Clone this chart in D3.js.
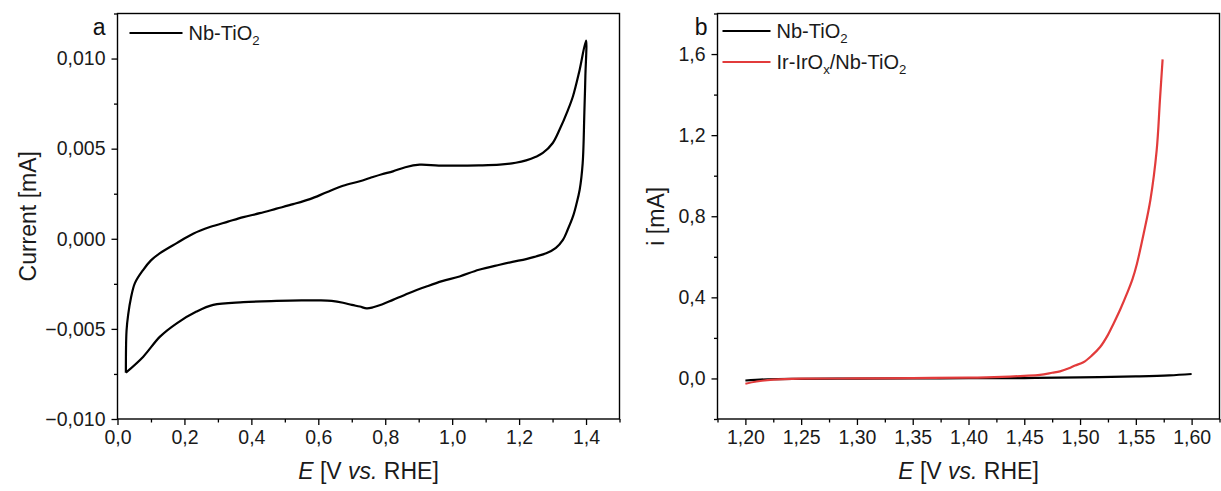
<!DOCTYPE html>
<html>
<head>
<meta charset="utf-8">
<script src="https://cdn.jsdelivr.net/npm/d3@7"></script>
<style>
  html, body { margin: 0; padding: 0; background: #fff; }
  svg { display: block; font-family: "Liberation Sans", Arial, sans-serif; }
</style>
</head>
<body>
<svg id="chart" width="1221" height="491"></svg>
<script>
// ---- Panel a: cyclic voltammogram of Nb-TiO2 (E in V vs. RHE, current in mA) ----
// anodic sweep, from the lower vertex up to 1.40 V
const cvAnodicE = [0.025, 0.027, 0.032, 0.040, 0.052, 0.077, 0.100, 0.127, 0.177, 0.226, 0.276, 0.330,
  0.376, 0.425, 0.475, 0.525, 0.575, 0.625, 0.674, 0.724, 0.754, 0.790, 0.823, 0.860, 0.903, 0.960,
  1.022, 1.080, 1.142, 1.190, 1.221, 1.250, 1.271, 1.300, 1.321, 1.345, 1.361, 1.380, 1.400];
const cvAnodicI = [-0.00743, -0.00510, -0.00420, -0.00330, -0.00246, -0.00172, -0.00120, -0.00080, -0.00024,
  0.00028, 0.00065, 0.00095, 0.00120, 0.00142, 0.00167, 0.00192, 0.00220, 0.00258, 0.00294, 0.00319,
  0.00337, 0.00358, 0.00374, 0.00397, 0.00411, 0.00406, 0.00406, 0.00407, 0.00411, 0.00422, 0.00435,
  0.00455, 0.00476, 0.00530, 0.00606, 0.00710, 0.00791, 0.00930, 0.01100];
// cathodic sweep, from 1.40 V back down to the lower vertex
const cvCathodicE = [1.400, 1.398, 1.395, 1.390, 1.381, 1.371, 1.361, 1.345, 1.331, 1.310, 1.281, 1.250,
  1.221, 1.180, 1.142, 1.080, 1.022, 0.970, 0.923, 0.870, 0.823, 0.790, 0.764, 0.745, 0.724, 0.700,
  0.674, 0.640, 0.604, 0.550, 0.475, 0.376, 0.286, 0.236, 0.177, 0.127, 0.077, 0.025];
const cvCathodicI = [0.01100, 0.00900, 0.00700, 0.00420, 0.00272, 0.00190, 0.00124, 0.00050, -0.00006,
  -0.00050, -0.00080, -0.00098, -0.00113, -0.00128, -0.00144, -0.00172, -0.00209, -0.00235, -0.00265,
  -0.00302, -0.00339, -0.00365, -0.00380, -0.00386, -0.00376, -0.00367, -0.00355, -0.00345, -0.00342,
  -0.00342, -0.00345, -0.00352, -0.00367, -0.00404, -0.00469, -0.00543, -0.00654, -0.00743];

const panelAXTicks = [0.0, 0.2, 0.4, 0.6, 0.8, 1.0, 1.2, 1.4];
const panelAXMinor = [0.1, 0.3, 0.5, 0.7, 0.9, 1.1, 1.3, 1.5];
const panelAYTicks = [-0.010, -0.005, 0.000, 0.005, 0.010];
const panelAYMinor = [-0.0075, -0.0025, 0.0025, 0.0075, 0.0125];

// ---- Panel b: linear sweeps, Nb-TiO2 and Ir-IrOx/Nb-TiO2 ----
const lsvSupportE = [1.200, 1.220, 1.250, 1.300, 1.350, 1.400, 1.450, 1.500, 1.550, 1.580, 1.600];
const lsvSupportI = [-0.010, -0.004, -0.002, -0.001, 0.000, 0.001, 0.002, 0.005, 0.010, 0.015, 0.022];
const lsvIrE = [1.200, 1.210, 1.225, 1.250, 1.300, 1.350, 1.400, 1.430, 1.450, 1.464, 1.475, 1.482,
  1.490, 1.4955, 1.503, 1.510, 1.518, 1.525, 1.530, 1.536, 1.542, 1.547, 1.551, 1.557, 1.563, 1.5687,
  1.5716, 1.574];
const lsvIrI = [-0.026, -0.015, -0.006, -0.001, 0.000, 0.002, 0.004, 0.008, 0.013, 0.018, 0.028, 0.035,
  0.050, 0.064, 0.080, 0.110, 0.155, 0.215, 0.270, 0.340, 0.418, 0.490, 0.566, 0.714, 0.879, 1.126,
  1.373, 1.574];

const panelBXTicks = [1.20, 1.25, 1.30, 1.35, 1.40, 1.45, 1.50, 1.55, 1.60];
const panelBXMinor = [1.175, 1.225, 1.275, 1.325, 1.375, 1.425, 1.475, 1.525, 1.575, 1.625];
const panelBYTicks = [0.0, 0.4, 0.8, 1.2, 1.6];
const panelBYMinor = [-0.2, 0.2, 0.6, 1.0, 1.4, 1.8];

const seriesColors = ["#000000", "#e23b3b"];

// ---- drawing ----
const svg = d3.select("#chart");
const plotTop = 13.5, plotBottom = 419;
const tickFont = 19.5, titleFont = 23, legendFont = 20;

const commaFmt = (spec) => {
  const f = d3.format(spec);
  return v => f(v).replace(".", ",").replace("-", "\u2212");
};

function drawPanel(opts) {
  const x = d3.scaleLinear().domain(opts.xDomain).range([opts.left, opts.right]);
  const y = d3.scaleLinear().domain(opts.yDomain).range([plotBottom, plotTop]);
  const g = svg.append("g");

  // clip region for the curves
  const clipId = "clip-" + opts.id;
  svg.append("clipPath").attr("id", clipId).append("rect")
    .attr("x", opts.left).attr("y", plotTop)
    .attr("width", opts.right - opts.left).attr("height", plotBottom - plotTop);

  const curves = g.append("g").attr("clip-path", `url(#${clipId})`);
  opts.series.forEach(s => {
    const pts = s.E.map((e, i) => [e, s.I[i]]);
    curves.append("path")
      .attr("d", d3.line().x(d => x(d[0])).y(d => y(d[1])).curve(d3.curveCatmullRom.alpha(0.5))(pts))
      .attr("fill", "none").attr("stroke", s.color).attr("stroke-width", 2.2)
      .attr("stroke-linejoin", "round");
  });

  // axes: major ticks with labels, minor ticks without
  const xAxis = g.append("g").attr("transform", `translate(0,${plotBottom})`)
    .call(d3.axisBottom(x).tickValues(opts.xTicks).tickFormat(commaFmt(opts.xFmt)).tickSize(6).tickPadding(5));
  g.append("g").attr("transform", `translate(0,${plotBottom})`)
    .call(d3.axisBottom(x).tickValues(opts.xMinor).tickFormat("").tickSize(3.5))
    .call(a => a.select(".domain").remove());
  const yAxis = g.append("g").attr("transform", `translate(${opts.left},0)`)
    .call(d3.axisLeft(y).tickValues(opts.yTicks).tickFormat(commaFmt(opts.yFmt)).tickSize(6).tickPadding(6));
  g.append("g").attr("transform", `translate(${opts.left},0)`)
    .call(d3.axisLeft(y).tickValues(opts.yMinor).tickFormat("").tickSize(3.5))
    .call(a => a.select(".domain").remove());
  [xAxis, yAxis].forEach(a => {
    a.select(".domain").remove();
    a.selectAll("text").attr("font-size", tickFont).attr("fill", "#1a1a1a")
      .attr("font-family", "'Liberation Sans', Arial, sans-serif");
  });
  g.selectAll(".tick line").attr("stroke", "#000").attr("stroke-width", 1.3);

  // frame
  g.append("rect").attr("x", opts.left).attr("y", plotTop)
    .attr("width", opts.right - opts.left).attr("height", plotBottom - plotTop)
    .attr("fill", "none").attr("stroke", "#000").attr("stroke-width", 1.4);

  // panel letter
  g.append("text").attr("x", opts.left - opts.letterGap).attr("y", 35).attr("text-anchor", "end")
    .attr("font-size", 23).attr("fill", "#111").text(opts.letter);

  // x axis title
  const xt = g.append("text").attr("x", (opts.left + opts.right) / 2).attr("y", 479)
    .attr("text-anchor", "middle").attr("font-size", titleFont).attr("fill", "#1a1a1a");
  xt.append("tspan").attr("font-style", "italic").text("E");
  xt.append("tspan").text(" [V ");
  xt.append("tspan").attr("font-style", "italic").text("vs.");
  xt.append("tspan").text(" RHE]");

  // y axis title
  g.append("text")
    .attr("transform", `translate(${opts.yTitleX},${(plotTop + plotBottom) / 2}) rotate(-90)`)
    .attr("text-anchor", "middle").attr("font-size", titleFont).attr("fill", "#1a1a1a")
    .text(opts.yTitle);

  // legend
  opts.series.forEach((s, i) => {
    const ly = opts.legendY[i];
    const lx = opts.left + opts.legendInset;
    g.append("line").attr("x1", lx).attr("x2", lx + opts.legendLen)
      .attr("y1", ly).attr("y2", ly).attr("stroke", s.color).attr("stroke-width", 2.2);
    const t = g.append("text").attr("x", lx + opts.legendLen + 6).attr("y", ly + 7)
      .attr("font-size", legendFont).attr("fill", "#1a1a1a");
    s.label.forEach(part => {
      const sp = t.append("tspan").text(part.t);
      if (part.sub) sp.attr("font-size", legendFont * 0.66).attr("dy", 5);
      else if (part.after) sp.attr("dy", -5);
    });
  });
}

drawPanel({
  id: "a", letter: "a", left: 117.5, right: 619.5, letterGap: 12,
  xDomain: [0, 1.5], yDomain: [-0.010, 0.0125],
  xTicks: panelAXTicks, xMinor: panelAXMinor, yTicks: panelAYTicks, yMinor: panelAYMinor,
  xFmt: ".1f", yFmt: ".3f",
  yTitle: "Current [mA]", yTitleX: 36,
  legendY: [33], legendInset: 12, legendLen: 53,
  series: [
    { E: cvAnodicE.concat(cvCathodicE.slice(1)), I: cvAnodicI.concat(cvCathodicI.slice(1)),
      color: seriesColors[0],
      label: [{ t: "Nb-TiO" }, { t: "2", sub: true }] }
  ]
});

drawPanel({
  id: "b", letter: "b", left: 717.5, right: 1219.5, letterGap: 10,
  xDomain: [1.175, 1.625], yDomain: [-0.2, 1.8],
  xTicks: panelBXTicks, xMinor: panelBXMinor, yTicks: panelBYTicks, yMinor: panelBYMinor,
  xFmt: ".2f", yFmt: ".1f",
  yTitle: "i [mA]", yTitleX: 664,
  legendY: [31, 62], legendInset: 5, legendLen: 48,
  series: [
    { E: lsvSupportE, I: lsvSupportI, color: seriesColors[0],
      label: [{ t: "Nb-TiO" }, { t: "2", sub: true }] },
    { E: lsvIrE, I: lsvIrI, color: seriesColors[1],
      label: [{ t: "Ir-IrO" }, { t: "x", sub: true }, { t: "/Nb-TiO", after: true }, { t: "2", sub: true }] }
  ]
});
</script>
</body>
</html>
